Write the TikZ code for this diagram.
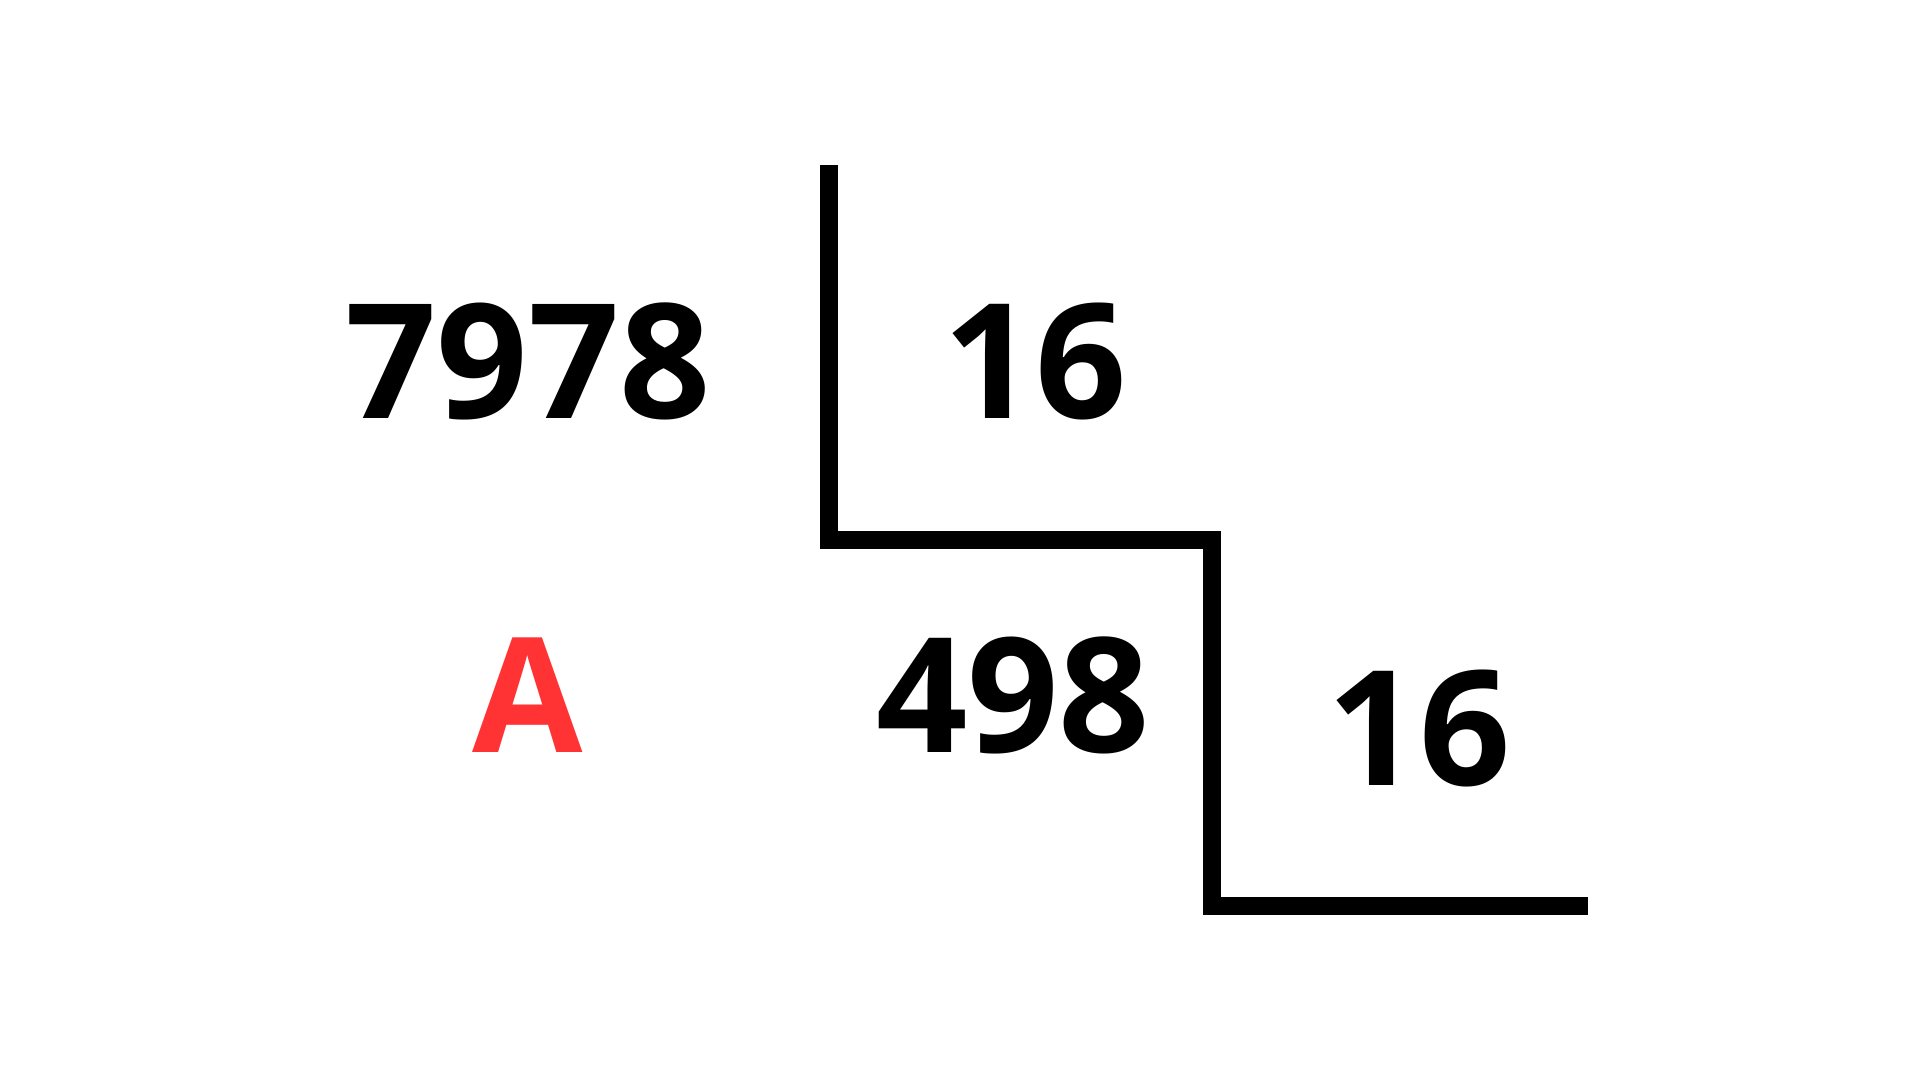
\documentclass[tikz,border=0pt]{standalone}
\usepackage{fontspec}
\setmainfont{Open Sans}
\usepackage{xcolor}
\definecolor{letterred}{HTML}{FF3333}
\usetikzlibrary{positioning}

\begin{document}
\begin{tikzpicture}[x=1pt, y=-1pt]
\tikzstyle{zahl} = [inner sep=0pt, anchor=base, font=\fontsize{160}{192}\selectfont\bfseries]
\tikzstyle{linie} = [line width=17.5pt, miter limit=10, line join=miter]

    \useasboundingbox (0,0) rectangle (1920,1080);
    \node [zahl] (num-top) at (528,418) {7978};
    \node [zahl] (div-top) at (1035,418) {16};
    \node [zahl,text=letterred] (letter-a) at (528,752) {A};
    \node [zahl] (quotient) at (1013,752) {498};
    \node [zahl] (div-low) at (1419,785) {16};
    \coordinate (start) at (829,165);
    \coordinate (ende) at (1588,906);
    \draw [linie] (start) |- (1212,540) |- (ende);
\end{tikzpicture}
\end{document}
